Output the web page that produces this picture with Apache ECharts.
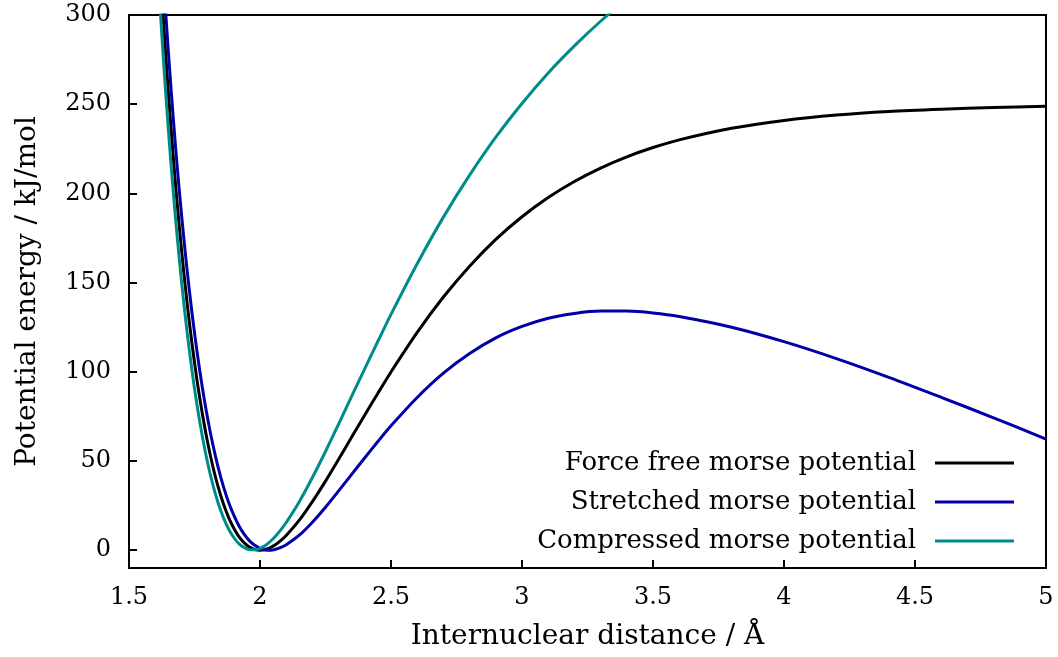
<!DOCTYPE html>
<html>
<head>
<meta charset="utf-8">
<script src="https://cdn.jsdelivr.net/npm/echarts@6/dist/echarts.min.js"></script>
<style>
html,body{margin:0;padding:0;background:#fff;}
#chart{width:1058px;height:657px;}
</style>
</head>
<body>
<div id="chart"></div>
<script>
// Internuclear distance (Å)
const distances = [1.60,1.62,1.64,1.66,1.68,1.70,1.72,1.74,1.76,1.78,1.80,1.82,1.84,1.86,1.88,1.90,1.92,1.94,1.96,1.98,2.00,2.02,2.04,2.06,2.08,2.10,2.15,2.20,2.25,2.30,2.35,2.40,2.45,2.50,2.60,2.70,2.80,2.90,3.00,3.10,3.20,3.30,3.40,3.50,3.60,3.80,4.00,4.20,4.40,4.60,4.80,5.00];
// Potential energy (kJ/mol)
const forceFree = [375.5,323.9,277.9,237.1,200.9,169.0,140.9,116.3,94.9,76.4,60.5,46.9,35.6,26.1,18.4,12.3,7.5,4.1,1.7,0.4,0,0.4,1.5,3.2,5.5,8.2,16.8,27.2,38.7,50.9,63.4,75.8,88.0,99.9,122.1,141.9,159.2,174.2,186.9,197.7,206.7,214.2,220.5,225.7,230.0,236.5,240.9,243.9,245.9,247.2,248.2,248.8];
const stretched = [401.5,348.7,301.4,259.4,221.9,188.8,159.4,133.5,110.9,91.1,74.0,59.2,46.6,35.9,26.9,19.6,13.5,8.8,5.2,2.7,1.0,0.1,0.0,0.5,1.5,3.0,8.4,15.7,24.1,33.2,42.5,51.8,60.9,69.7,85.6,99.2,110.2,119.0,125.4,130.0,132.7,134.0,134.0,133.0,131.0,125.0,116.9,107.4,96.9,85.7,74.2,62.3];
const compressed = [351.5,301.2,256.4,216.9,181.9,151.3,124.4,101.1,80.9,63.7,49.0,36.7,26.6,18.4,11.9,7.1,3.5,1.4,0.2,0.2,1.0,2.6,5.0,8.0,11.5,15.5,27.2,40.7,55.3,70.7,86.3,101.8,117.1,132.2,160.6,186.7,210.2,231.5,250.4,267.5,282.7,296.5,309.0,320.5];
const seriesNames = ['Force free morse potential','Stretched morse potential','Compressed morse potential'];
const yTicks = [0,50,100,150,200,250,300];

const FONT = '"DejaVu Serif", "Liberation Serif", serif';
const colors = ['#000000','#0000a8','#008b8b'];
const seriesData = [forceFree, stretched, compressed];

function pairs(vals){ return vals.map((v,i)=>[distances[i], v]); }

const legendTops = [448, 487, 526];

const option = {
  backgroundColor: '#ffffff',
  animation: false,
  grid: {left: 129, right: 12, top: 15, bottom: 89, show: true, borderColor: '#000', borderWidth: 2, backgroundColor: 'transparent'},
  xAxis: {
    type: 'value', min: 1.5, max: 5, interval: 0.5,
    name: 'Internuclear distance / Å', nameLocation: 'middle', nameGap: 55,
    nameTextStyle: {fontFamily: FONT, fontSize: 28, color: '#000'},
    axisLine: {show: true, onZero: false, lineStyle: {color: '#000', width: 2}},
    axisTick: {show: true, inside: true, length: 8, lineStyle: {color: '#000', width: 2}},
    axisLabel: {fontFamily: FONT, fontSize: 24, color: '#000', margin: 18},
    splitLine: {show: false}
  },
  yAxis: {
    type: 'value', min: -10, max: 300,
    name: 'Potential energy / kJ/mol', nameLocation: 'middle', nameGap: 87,
    nameTextStyle: {fontFamily: FONT, fontSize: 28, color: '#000'},
    axisLine: {show: true, onZero: false, lineStyle: {color: '#000', width: 2}},
    axisTick: {show: true, inside: true, length: 8, lineStyle: {color: '#000', width: 2}, customValues: yTicks},
    axisLabel: {fontFamily: FONT, fontSize: 24, color: '#000', margin: 18, customValues: yTicks},
    splitLine: {show: false}
  },
  legend: seriesNames.map((n,i)=>({
    data: [{name: n, icon: 'rect'}],
    right: 44, top: legendTops[i], orient: 'vertical', align: 'right', padding: 0,
    itemWidth: 79, itemHeight: 3,
    textStyle: {fontFamily: FONT, fontSize: 26, lineHeight: 30, color: '#000', padding: [0, 14, 0, 0]},
    selectedMode: false
  })),
  series: seriesNames.map((n,i)=>({
    name: n, type: 'line', data: pairs(seriesData[i]),
    smooth: 0.3, showSymbol: false, symbol: 'none', clip: true,
    lineStyle: {color: colors[i], width: 3}, itemStyle: {color: colors[i]}
  }))
};

const chart = echarts.init(document.getElementById('chart'), null, {renderer: 'canvas'});
chart.setOption(option);
</script>
</body>
</html>
